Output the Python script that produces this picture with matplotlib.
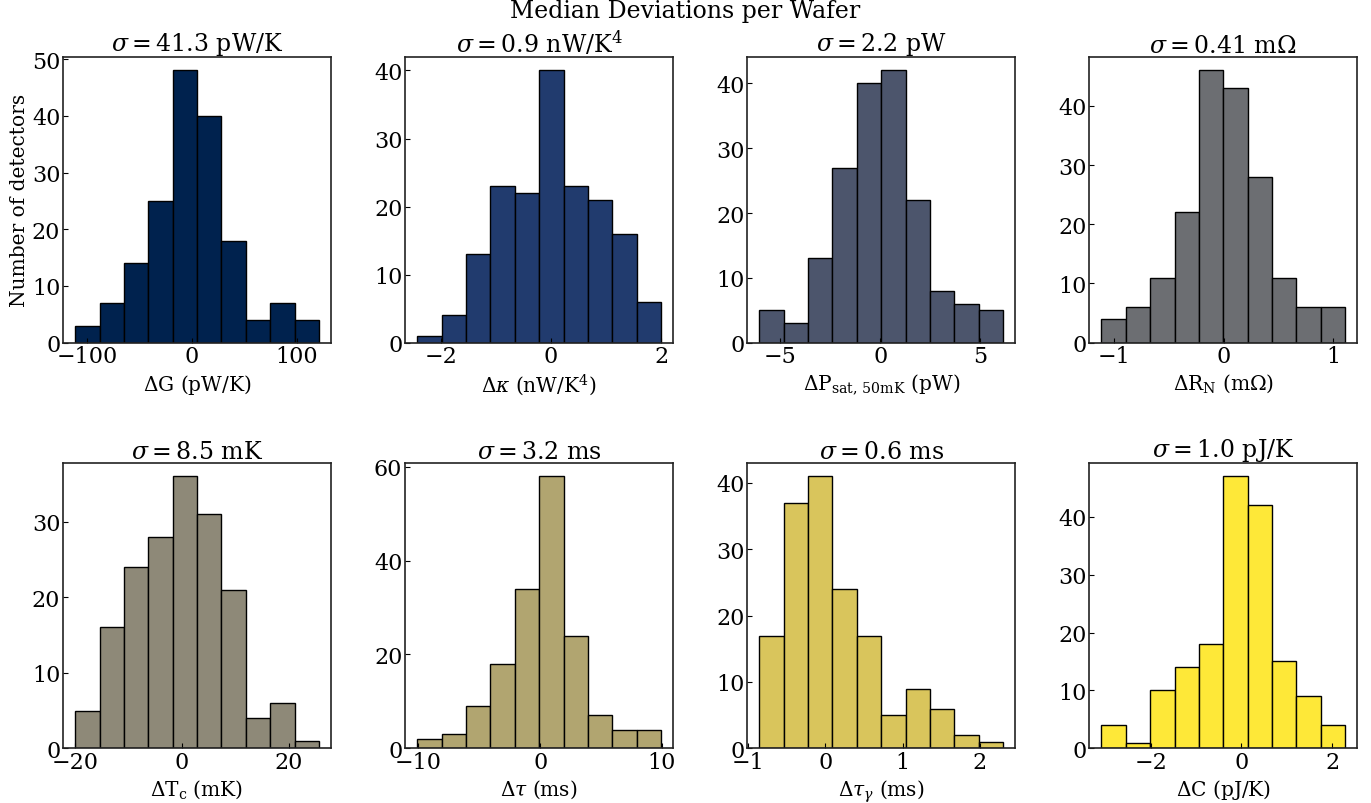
import numpy as np
import matplotlib
matplotlib.use('Agg')
import matplotlib.pyplot as plt

plt.rcParams['font.family'] = ['DejaVu Serif']
plt.rcParams['mathtext.fontset'] = 'dejavuserif'

# counts per bin (10 bins each)
counts_G = [3, 7, 14, 25, 48, 40, 18, 4, 7, 4]
counts_kappa = [1, 4, 13, 23, 22, 40, 23, 21, 16, 6]
counts_psat = [5, 3, 13, 27, 40, 42, 22, 8, 6, 5]
counts_rn = [4, 6, 11, 22, 46, 43, 28, 11, 6, 6]
counts_tc = [5, 16, 24, 28, 36, 31, 21, 4, 6, 1]
counts_tau = [2, 3, 9, 18, 34, 58, 24, 7, 4, 4]
counts_taug = [17, 37, 41, 24, 17, 5, 9, 6, 2, 1]
counts_C = [4, 1, 10, 14, 18, 47, 42, 15, 9, 4]

# histogram range (min, max) per panel
range_G = (-111.4, 121.0)
range_kappa = (-2.425, 2.0)
range_psat = (-6.03, 6.13)
range_rn = (-1.119, 1.110)
range_tc = (-19.94, 25.66)
range_tau = (-10.08, 9.92)
range_taug = (-0.855, 2.300)
range_C = (-3.09, 2.286)

titles = [r'$\sigma = $41.3 pW/K', r'$\sigma = $0.9 nW/K$^4$', r'$\sigma = $2.2 pW',
          r'$\sigma = $0.41 m$\Omega$', r'$\sigma = $8.5 mK', r'$\sigma = $3.2 ms',
          r'$\sigma = $0.6 ms', r'$\sigma = $1.0 pJ/K']
xlabels = [r'$\Delta$G (pW/K)', r'$\Delta\kappa$ (nW/K$^4$)', r'$\Delta$P$_{\rm sat,\,50mK}$ (pW)',
           r'$\Delta$R$_{\rm N}$ (m$\Omega$)', r'$\Delta$T$_{\rm c}$ (mK)', r'$\Delta\tau$ (ms)',
           r'$\Delta\tau_\gamma$ (ms)', r'$\Delta$C (pJ/K)']

all_counts = [counts_G, counts_kappa, counts_psat, counts_rn,
              counts_tc, counts_tau, counts_taug, counts_C]
all_ranges = [range_G, range_kappa, range_psat, range_rn,
              range_tc, range_tau, range_taug, range_C]

colors = plt.cm.cividis(np.linspace(0, 1, 8))

fig, axes = plt.subplots(2, 4, figsize=(13.71, 8.04), dpi=100)
fig.subplots_adjust(left=0.046, right=0.990, top=0.928, bottom=0.068,
                    wspace=0.276, hspace=0.42)

for i, ax in enumerate(axes.flat):
    lo, hi = all_ranges[i]
    edges = np.linspace(lo, hi, len(all_counts[i]) + 1)
    ax.hist(edges[:-1], bins=edges, weights=all_counts[i], color=colors[i],
            edgecolor='black', linewidth=1)
    ax.set_title(titles[i], fontsize=17, pad=3)
    ax.set_xlabel(xlabels[i], fontsize=14.5, labelpad=3)
    ax.tick_params(direction='in', labelsize=16, pad=2)
    for sp in ax.spines.values():
        sp.set_linewidth(1.2)
        sp.set_color('#222222')

axes[0, 0].set_ylabel('Number of detectors', fontsize=14.5, labelpad=2)
fig.suptitle('Median Deviations per Wafer', fontsize=17, y=1.0)

fig.savefig('out.png', dpi=100)
